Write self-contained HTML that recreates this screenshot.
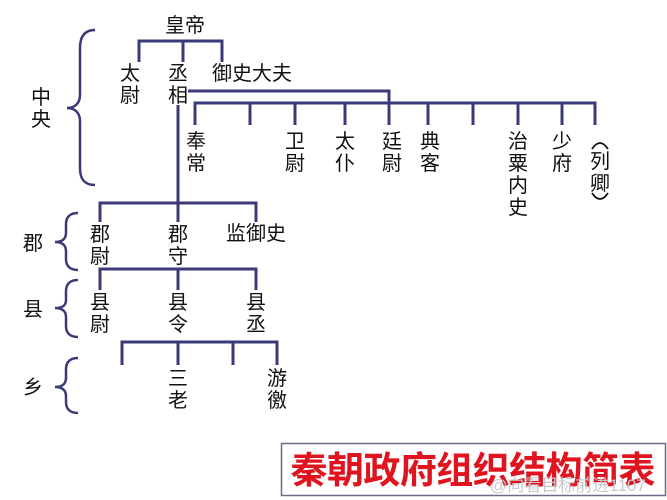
<!DOCTYPE html>
<html><head><meta charset="utf-8"><style>
html,body{margin:0;padding:0;background:#fff;}
svg{display:block;}
text{font-family:"Liberation Sans","Noto Sans CJK SC",sans-serif;font-size:20px;fill:#111;}
</style></head><body>
<svg width="667" height="500" viewBox="0 0 667 500" xmlns="http://www.w3.org/2000/svg">
<g stroke="#3a3a78" stroke-width="3" fill="none">
<path d="M139 62V41H222V62M183 41V62"/>
<path d="M188 91H389V125"/>
<path d="M195 125V103H595V125M250 103V125M295 103V125M345 103V125M428 103V125M473 103V125M518 103V125M562 103V125"/>
<path d="M178 105V222M100 222V203H256V222"/>
<path d="M100 290V269H256V290M178 269V290"/>
<path d="M122 365V342H277V365M178 342V365M233 342V365"/>
<path d="M95 30C85 30 80 36 80 48V95C80 103 75 108 67 108C75 108 80 113 80 121V168C80 180 85 185 95 185" stroke-width="2.5"/>
<path d="M78 213C70 213 66 217 66 224V233C66 239 62 242 55 242C62 242 66 245 66 251V259C66 266 70 270 78 270" stroke-width="2.5"/>
<path d="M78 280C70 280 66 284 66 291V300C66 306 62 308 55 308C62 308 66 311 66 317V326C66 333 70 337 78 337" stroke-width="2.5"/>
<path d="M78 358C70 358 66 362 66 369V378C66 384 62 387 55 387C62 387 66 390 66 396V402C66 409 70 413 78 413" stroke-width="2.5"/>
</g>
<path d="M592 149Q600 137 608 149M592 193Q600 205 608 193" stroke="#111" stroke-width="1.8" fill="none"/>
<g text-anchor="middle">
<text x="185" y="32">皇帝</text>
<text x="130" y="80">太</text><text x="130" y="102">尉</text>
<text x="178" y="80">丞</text><text x="178" y="102">相</text>
<text x="252" y="80">御史大夫</text>
<text x="41" y="104">中</text><text x="41" y="126">央</text>
<text x="196" y="148">奉</text><text x="196" y="170">常</text>
<text x="295" y="148">卫</text><text x="295" y="170">尉</text>
<text x="345" y="148">太</text><text x="345" y="170">仆</text>
<text x="392" y="148">廷</text><text x="392" y="170">尉</text>
<text x="430" y="148">典</text><text x="430" y="170">客</text>
<text x="518" y="148">治</text><text x="518" y="170">粟</text><text x="518" y="192">内</text><text x="518" y="214">史</text>
<text x="562" y="148">少</text><text x="562" y="170">府</text>
<text x="600" y="168">列</text><text x="600" y="190">卿</text>
<text x="33" y="250">郡</text>
<text x="100" y="241">郡</text><text x="100" y="263">尉</text>
<text x="178" y="241">郡</text><text x="178" y="263">守</text>
<text x="256" y="240">监御史</text>
<text x="33" y="316">县</text>
<text x="100" y="309">县</text><text x="100" y="331">尉</text>
<text x="178" y="309">县</text><text x="178" y="331">令</text>
<text x="256" y="309">县</text><text x="256" y="331">丞</text>
<text x="33" y="394">乡</text>
<text x="178" y="385">三</text><text x="178" y="407">老</text>
<text x="277" y="385">游</text><text x="277" y="407">徼</text>
</g>
<rect x="281.5" y="443.5" width="384" height="52" fill="#fff" stroke="#6a6a8a" stroke-width="1.5"/>
<text x="473" y="483" text-anchor="middle" style="font-size:37px;fill:#e0141e;font-weight:bold;" textLength="365">秦朝政府组织结构简表</text>
<text x="490" y="491" style="font-size:17px;fill:#c8c8d0;">@向看目标前进1107</text>
</svg>
</body></html>
